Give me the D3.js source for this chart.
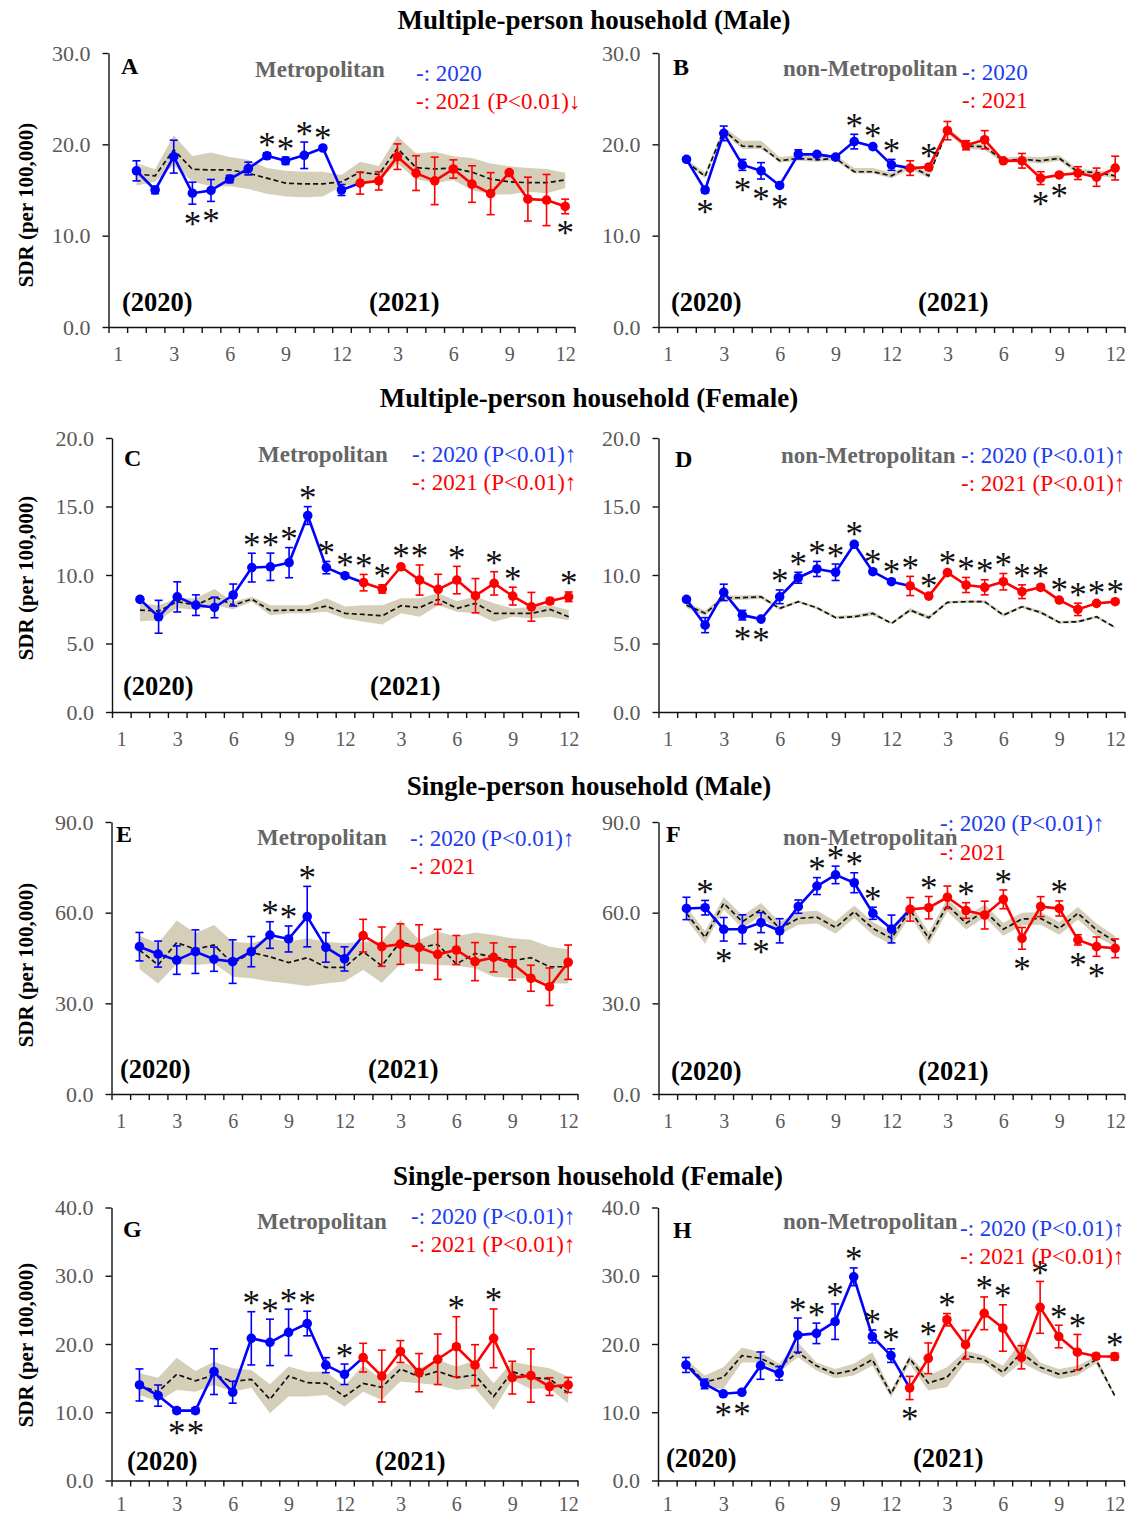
<!DOCTYPE html>
<html>
<head>
<meta charset="utf-8">
<script src="https://cdn.jsdelivr.net/npm/d3@7"></script>
<style>
  body { margin: 0; background: #fff; }
  text { font-family: "Liberation Serif", "Times New Roman", serif; }
</style>
</head>
<body>
<div id="graph"></div>
<script>
// month tick labels on the x axis (slot 0..24)
const xLabelSlots = [0, 3, 6, 9, 12, 15, 18, 21, 24];
const xLabels = ["1", "3", "6", "9", "12", "3", "6", "9", "12"];

// ---- A: multiple-person, male, metropolitan
const A_2020 = [17.1, 15.0, 18.65, 14.65, 14.95, 16.2, 17.35, 18.75, 18.2, 18.8, 19.6, 15.0];
const A_2020_err = [1.1, 0.4, 1.8, 1.2, 1.2, 0.4, 0.7, 0.3, 0.4, 1.45, 0.2, 0.6];
const A_2021 = [15.75, 16.0, 18.65, 16.85, 16.0, 17.3, 15.65, 14.6, 16.9, 14.0, 13.9, 13.2];
const A_2021_err = [1.2, 1.0, 1.4, 1.9, 2.6, 1.0, 2.0, 2.3, 0.2, 2.4, 2.8, 0.8];
const A_base = [16.76, 16.55, 19.4, 17.27, 17.2, 17.2, 16.84, 16.3, 15.75, 15.67, 15.67, 15.9, 16.95, 16.7, 19.56, 17.45, 17.3, 17.4, 16.95, 16.2, 15.9, 15.8, 15.8, 16.1];
const A_hi = [17.93, 17.27, 21.0, 18.73, 19.1, 18.6, 18.3, 17.4, 17.1, 17.0, 17.0, 16.65, 18.1, 17.64, 20.9, 19.0, 19.2, 18.7, 18.5, 17.9, 17.6, 17.4, 17.3, 16.9];
const A_lo = [15.5, 15.9, 17.75, 15.9, 15.4, 15.4, 15.1, 14.6, 14.3, 14.2, 14.3, 15.4, 15.7, 16.1, 17.9, 16.2, 15.75, 16.1, 15.0, 14.5, 14.5, 14.8, 14.65, 15.2];
const A_up = [8, 9, 10, 11];
const A_down = [4, 5, 24];

// ---- B: multiple-person, male, non-metropolitan
const B_2020 = [18.36, 15.0, 21.2, 17.75, 17.1, 15.5, 18.9, 18.9, 18.6, 20.3, 19.75, 17.75];
const B_2020_err = [0.2, 0.3, 0.8, 0.6, 0.9, 0.2, 0.5, 0.2, 0.2, 0.8, 0.2, 0.6];
const B_2021 = [17.4, 17.5, 21.5, 19.9, 20.5, 18.2, 18.2, 16.3, 16.65, 16.85, 16.4, 17.4];
const B_2021_err = [0.8, 0.3, 1.0, 0.5, 1.0, 0.2, 0.8, 0.7, 0.2, 0.7, 1.0, 1.3];
const B_base = [18.1, 16.5, 21.56, 19.8, 19.75, 18.2, 18.47, 18.3, 18.47, 17.0, 17.0, 16.55, 17.64, 16.55, 21.56, 19.8, 19.75, 18.2, 18.36, 18.2, 18.47, 17.0, 16.9, 16.55];
const B_hi = [18.4, 16.9, 21.9, 20.4, 20.4, 18.6, 18.8, 18.7, 18.8, 17.4, 17.4, 16.9, 17.9, 16.9, 21.9, 20.1, 20.0, 18.5, 18.7, 18.6, 18.8, 17.3, 17.2, 16.8];
const B_lo = [17.9, 16.3, 21.2, 19.5, 19.5, 18.0, 18.2, 18.1, 18.2, 16.8, 16.8, 16.3, 17.3, 16.3, 21.2, 19.5, 19.4, 17.9, 18.1, 17.9, 18.2, 16.7, 16.6, 16.3];
const B_up = [10, 11, 12, 14];
const B_down = [2, 4, 5, 6, 20, 21];

// ---- C: multiple-person, female, metropolitan
const C_2020 = [8.22, 6.95, 8.4, 7.8, 7.63, 8.54, 10.54, 10.6, 10.9, 14.34, 10.54, 9.95];
const C_2020_err = [0.15, 1.2, 1.1, 0.75, 0.75, 0.8, 1.05, 1.0, 1.1, 0.65, 0.45, 0.15];
const C_2021 = [9.44, 8.98, 10.6, 9.63, 8.95, 9.63, 8.49, 9.39, 8.46, 7.68, 8.1, 8.41];
const C_2021_err = [0.6, 0.3, 0.15, 1.1, 1.1, 1.0, 1.25, 0.85, 0.65, 1.05, 0.2, 0.35];
const C_base = [7.44, 7.37, 8.05, 7.8, 8.41, 7.8, 8.24, 7.39, 7.44, 7.44, 7.73, 7.2, 7.12, 7.02, 7.76, 7.61, 8.24, 7.56, 7.93, 7.2, 7.2, 7.2, 7.49, 6.95];
const C_hi = [7.93, 7.8, 8.3, 8.3, 8.98, 8.05, 8.41, 7.8, 7.8, 7.8, 8.3, 7.7, 7.8, 7.8, 8.3, 8.3, 8.66, 8.1, 8.41, 7.93, 7.56, 7.68, 7.8, 7.44];
const C_lo = [6.63, 6.7, 7.6, 7.44, 7.8, 7.5, 8.05, 7.07, 7.2, 7.2, 7.32, 6.83, 6.59, 6.39, 7.2, 6.95, 7.8, 7.32, 7.2, 6.59, 6.95, 6.83, 6.95, 6.7];
const C_up = [7, 8, 9, 10, 11, 12, 13, 14, 15, 16, 18, 20, 21, 24];
const C_down = [];

// ---- D: multiple-person, female, non-metropolitan
const D_2020 = [8.22, 6.34, 8.73, 7.07, 6.78, 8.41, 9.8, 10.44, 10.2, 12.24, 10.24, 9.51];
const D_2020_err = [0.1, 0.55, 0.6, 0.35, 0.1, 0.5, 0.4, 0.55, 0.6, 0.15, 0.1, 0.1];
const D_2021 = [9.2, 8.46, 10.17, 9.27, 9.1, 9.51, 8.78, 9.1, 8.17, 7.49, 7.93, 8.05];
const D_2021_err = [0.7, 0.1, 0.1, 0.55, 0.55, 0.6, 0.5, 0.2, 0.1, 0.45, 0.1, 0.1];
const D_base = [7.8, 7.2, 8.34, 8.34, 8.41, 7.56, 8.05, 7.61, 6.88, 6.95, 7.2, 6.46, 7.44, 6.88, 8.0, 8.05, 8.05, 7.07, 7.68, 7.27, 6.54, 6.59, 6.95, 6.17];
const D_hi = [8.0, 7.4, 8.5, 8.5, 8.55, 7.7, 8.15, 7.7, 7.0, 7.1, 7.35, 6.55, 7.6, 7.05, 8.1, 8.15, 8.15, 7.2, 7.8, 7.4, 6.65, 6.7, 7.05, 6.25];
const D_lo = [7.6, 7.0, 8.15, 8.2, 8.25, 7.45, 7.95, 7.5, 6.8, 6.85, 7.05, 6.4, 7.3, 6.75, 7.9, 7.95, 7.95, 6.95, 7.6, 7.15, 6.45, 6.5, 6.85, 6.1];
const D_up = [6, 7, 8, 9, 10, 11, 12, 13, 14, 15, 16, 17, 18, 19, 20, 21, 22, 23, 24];
const D_down = [4, 5];

// ---- E: single-person, male, metropolitan
const E_2020 = [48.75, 46.3, 44.3, 47.1, 44.6, 43.8, 47.1, 52.6, 51.3, 58.7, 48.5, 44.7];
const E_2020_err = [4.7, 4.3, 4.7, 7.2, 4.0, 7.2, 5.0, 4.4, 4.3, 10.0, 4.9, 4.0];
const E_2021 = [52.4, 48.75, 49.6, 48.5, 46.2, 47.65, 43.8, 45.2, 43.2, 38.3, 35.5, 43.6];
const E_2021_err = [5.4, 6.5, 6.7, 7.5, 8.3, 4.8, 6.3, 4.8, 5.5, 4.3, 6.2, 5.7];
const E_base = [47.65, 42.7, 50.1, 47.9, 49.3, 43.2, 46.8, 45.4, 43.5, 45.1, 41.9, 41.9, 47.1, 42.4, 50.4, 48.5, 49.5, 43.0, 46.5, 45.4, 44.1, 45.1, 42.1, 42.1];
const E_hi = [52.3, 49.9, 57.4, 53.2, 55.9, 50.4, 49.9, 51.5, 50.4, 51.5, 50.4, 49.9, 50.4, 50.4, 57.6, 51.0, 53.7, 52.1, 53.4, 52.6, 51.5, 51.0, 48.75, 47.9];
const E_lo = [41.3, 36.6, 43.0, 42.7, 43.2, 38.8, 38.3, 37.2, 36.6, 35.7, 36.6, 37.2, 41.0, 36.8, 43.0, 43.2, 42.7, 42.4, 41.6, 38.8, 38.3, 38.3, 36.6, 36.6];
const E_up = [8, 9, 10];
const E_down = [];

// ---- F: single-person, male, non-metropolitan
const F_2020 = [61.4, 61.65, 54.5, 54.5, 56.7, 54.0, 62.0, 68.8, 72.5, 69.9, 59.8, 54.6];
const F_2020_err = [3.7, 2.4, 3.9, 4.8, 3.3, 4.0, 2.2, 2.8, 2.9, 3.3, 2.0, 4.6];
const F_2021 = [61.1, 61.65, 65.1, 60.7, 59.2, 64.4, 51.5, 62.0, 61.4, 51.0, 48.75, 48.2];
const F_2021_err = [3.9, 3.7, 3.7, 2.6, 4.6, 3.1, 3.6, 3.3, 2.5, 1.7, 3.2, 3.1];
const F_base = [59.8, 51.8, 63.1, 57.0, 61.1, 54.8, 58.1, 58.5, 55.1, 60.3, 54.8, 51.5, 60.9, 51.5, 62.5, 56.5, 60.6, 54.5, 57.9, 58.1, 54.8, 59.8, 54.3, 50.4];
const F_hi = [61.9, 53.9, 65.2, 59.1, 63.2, 56.9, 60.2, 60.6, 57.2, 62.4, 56.9, 53.6, 63.0, 53.6, 64.6, 58.6, 62.7, 56.6, 60.0, 60.2, 56.9, 61.9, 56.4, 52.3];
const F_lo = [57.7, 49.7, 61.0, 54.9, 59.0, 52.7, 56.0, 56.4, 53.0, 58.2, 52.7, 49.4, 58.8, 49.4, 60.4, 54.4, 58.5, 52.4, 55.8, 56.0, 52.7, 57.7, 52.2, 48.6];
const F_up = [2, 8, 9, 10, 11, 14, 16, 18, 21];
const F_down = [3, 5, 19, 22, 23];

// ---- G: single-person, female, metropolitan
const G_2020 = [14.0, 12.44, 10.24, 10.24, 15.95, 12.93, 20.83, 20.24, 21.7, 23.0, 16.9, 15.56];
const G_2020_err = [2.35, 1.55, 0.4, 0.4, 3.35, 1.6, 3.9, 3.4, 3.4, 1.8, 1.1, 1.5];
const G_2021 = [18.0, 15.3, 18.9, 15.8, 17.76, 19.6, 16.9, 20.83, 15.07, 15.37, 13.76, 14.0];
const G_2021_err = [2.1, 3.8, 1.6, 2.8, 3.7, 4.4, 3.0, 4.3, 2.4, 3.9, 1.3, 1.1];
const G_base = [13.9, 13.0, 15.56, 14.6, 15.46, 14.5, 14.83, 11.9, 15.3, 14.34, 14.24, 12.3, 14.24, 13.66, 16.34, 15.2, 16.0, 15.07, 15.46, 12.3, 15.95, 15.07, 14.9, 12.8];
const G_hi = [15.7, 15.07, 18.0, 16.05, 17.4, 16.44, 16.2, 14.1, 16.7, 15.95, 15.95, 13.9, 16.9, 14.73, 17.4, 16.44, 17.66, 16.7, 17.56, 14.24, 17.4, 16.9, 16.44, 15.2];
const G_lo = [12.54, 11.56, 13.27, 13.0, 14.0, 13.0, 13.6, 9.85, 12.3, 12.3, 12.54, 10.83, 13.0, 11.8, 14.5, 14.24, 14.0, 13.27, 13.5, 10.34, 14.73, 13.4, 13.5, 11.3];
const G_up = [7, 8, 9, 10, 12, 18, 20];
const G_down = [3, 4];

// ---- H: single-person, female, non-metropolitan
const H_2020 = [16.93, 14.15, 12.7, 12.93, 16.83, 15.7, 21.3, 21.56, 23.27, 29.85, 21.1, 18.3];
const H_2020_err = [1.1, 0.7, 0.3, 0.3, 2.0, 1.0, 2.5, 1.5, 2.6, 1.3, 0.95, 1.0];
const H_2021 = [13.56, 17.9, 23.56, 19.9, 24.5, 22.34, 18.05, 25.37, 21.1, 18.8, 18.2, 18.15];
const H_2021_err = [1.7, 2.25, 0.9, 2.1, 2.4, 3.4, 1.7, 3.8, 1.65, 2.6, 0.4, 0.5];
const H_base = [17.3, 14.4, 15.1, 18.3, 17.9, 16.6, 18.8, 16.8, 15.6, 16.2, 17.7, 12.7, 17.9, 14.3, 15.1, 18.3, 17.7, 15.85, 18.7, 16.6, 15.6, 16.1, 17.7, 12.44];
const H_hi = [17.8, 15.37, 16.6, 19.5, 18.8, 17.1, 20.24, 17.3, 16.34, 17.1, 18.8, 13.17, 18.3, 15.37, 16.6, 19.02, 18.3, 16.83, 20.5, 17.3, 16.34, 16.83, 18.2, 12.7];
const H_lo = [16.8, 13.66, 13.4, 17.3, 17.3, 15.85, 18.05, 16.1, 14.98, 15.37, 16.83, 12.2, 17.1, 13.17, 13.66, 17.3, 17.1, 15.1, 17.3, 15.85, 14.88, 15.37, 17.1, 12.2];
const H_up = [7, 8, 9, 10, 11, 12, 14, 15, 17, 18, 20, 21, 22, 24];
const H_down = [3, 4, 13];

const rowTitles = [
  { text: "Multiple-person household (Male)", x: 594, y: 29 },
  { text: "Multiple-person household (Female)", x: 589, y: 407 },
  { text: "Single-person household (Male)", x: 589, y: 795 },
  { text: "Single-person household (Female)", x: 588, y: 1185 }
];

const BLUE = "#0000ff", RED = "#ff0000", BAND = "#d5cfb9";
const BLUE_TXT = "#1c3cf0", GRAY_TXT = "#666666", TICK_TXT = "#595959";
const PW = 466;

const panels = [
  { id: "A", o20: A_2020, e20: A_2020_err, o21: A_2021, e21: A_2021_err, base: A_base, hi: A_hi, lo: A_lo, up: A_up, down: A_down,
    yMax: 30, yStep: 10, x0: 108.5, top: 53, bottom: 327, labPad: 20, letter: [121, 74], area: "Metropolitan", areaPos: [255, 77],
    leg20: "-: 2020", leg21: "-: 2021 (P<0.01)\u2193", legX: 416, legY: [81, 109], years: [[122, 311], [369, 311]], ylab: 205 },
  { id: "B", o20: B_2020, e20: B_2020_err, o21: B_2021, e21: B_2021_err, base: B_base, hi: B_hi, lo: B_lo, up: B_up, down: B_down,
    yMax: 30, yStep: 10, x0: 658.5, top: 53, bottom: 327, labPad: 20, letter: [673, 75], area: "non-Metropolitan", areaPos: [783, 76],
    leg20: "-: 2020", leg21: "-: 2021", legX: 962, legY: [80, 108], years: [[671, 311], [918, 311]] },
  { id: "C", o20: C_2020, e20: C_2020_err, o21: C_2021, e21: C_2021_err, base: C_base, hi: C_hi, lo: C_lo, up: C_up, down: C_down,
    yMax: 20, yStep: 5, x0: 112, top: 438, bottom: 712, labPad: 20, letter: [124, 466], area: "Metropolitan", areaPos: [258, 462],
    leg20: "-: 2020 (P<0.01)\u2191", leg21: "-: 2021 (P<0.01)\u2191", legX: 412, legY: [462, 490], years: [[123, 695], [370, 695]], ylab: 578 },
  { id: "D", o20: D_2020, e20: D_2020_err, o21: D_2021, e21: D_2021_err, base: D_base, hi: D_hi, lo: D_lo, up: D_up, down: D_down,
    yMax: 20, yStep: 5, x0: 658.5, top: 438, bottom: 712, labPad: 20, letter: [675, 467], area: "non-Metropolitan", areaPos: [781, 463],
    leg20: "-: 2020 (P<0.01)\u2191", leg21: "-: 2021 (P<0.01)\u2191", legX: 961, legY: [463, 491], years: [] },
  { id: "E", o20: E_2020, e20: E_2020_err, o21: E_2021, e21: E_2021_err, base: E_base, hi: E_hi, lo: E_lo, up: E_up, down: E_down,
    yMax: 90, yStep: 30, x0: 111.5, top: 822, bottom: 1094, labPad: 20, letter: [116, 842], area: "Metropolitan", areaPos: [257, 845],
    leg20: "-: 2020 (P<0.01)\u2191", leg21: "-: 2021", legX: 410, legY: [846, 874], years: [[120, 1078], [368, 1078]], ylab: 965 },
  { id: "F", o20: F_2020, e20: F_2020_err, o21: F_2021, e21: F_2021_err, base: F_base, hi: F_hi, lo: F_lo, up: F_up, down: F_down,
    yMax: 90, yStep: 30, x0: 658.5, top: 822, bottom: 1094, labPad: 20, letter: [666, 842], area: "non-Metropolitan", areaPos: [783, 845],
    leg20: "-: 2020 (P<0.01)\u2191", leg21: "-: 2021", legX: 940, legY: [831, 860], years: [[671, 1080], [918, 1080]] },
  { id: "G", o20: G_2020, e20: G_2020_err, o21: G_2021, e21: G_2021_err, base: G_base, hi: G_hi, lo: G_lo, up: G_up, down: G_down,
    yMax: 40, yStep: 10, x0: 111.5, top: 1207.5, bottom: 1480.5, labPad: 16, letter: [123, 1237], area: "Metropolitan", areaPos: [257, 1229],
    leg20: "-: 2020 (P<0.01)\u2191", leg21: "-: 2021 (P<0.01)\u2191", legX: 411, legY: [1224, 1252], years: [[127, 1470], [375, 1470]], ylab: 1345 },
  { id: "H", o20: H_2020, e20: H_2020_err, o21: H_2021, e21: H_2021_err, base: H_base, hi: H_hi, lo: H_lo, up: H_up, down: H_down,
    yMax: 40, yStep: 10, x0: 658, top: 1207.5, bottom: 1480.5, labPad: 16, letter: [673, 1238], area: "non-Metropolitan", areaPos: [783, 1229],
    leg20: "-: 2020 (P<0.01)\u2191", leg21: "-: 2021 (P<0.01)\u2191", legX: 960, legY: [1236, 1264], years: [[666, 1467], [913, 1467]] }
];

const svg = d3.select("#graph").append("svg")
  .attr("width", 1129)
  .attr("height", 1517);

svg.selectAll(".row-title")
  .data(rowTitles)
  .enter().append("text")
  .attr("class", "row-title")
  .attr("x", d => d.x)
  .attr("y", d => d.y)
  .attr("text-anchor", "middle")
  .attr("font-weight", "bold")
  .attr("font-size", "27px")
  .attr("fill", "#000")
  .text(d => d.text);

function drawSeries(g, x, y, lineData, pts, color) {
  g.append("path")
    .datum(lineData)
    .attr("fill", "none")
    .attr("stroke", color)
    .attr("stroke-width", 2.6)
    .attr("stroke-linejoin", "round")
    .attr("d", d3.line().x(d => x(d.s)).y(d => y(d.v)));

  const eb = g.append("g").attr("stroke", color).attr("stroke-width", 1.6);
  pts.forEach(d => {
    eb.append("line").attr("x1", x(d.s)).attr("x2", x(d.s)).attr("y1", y(d.v - d.e)).attr("y2", y(d.v + d.e));
    eb.append("line").attr("x1", x(d.s) - 4).attr("x2", x(d.s) + 4).attr("y1", y(d.v - d.e)).attr("y2", y(d.v - d.e));
    eb.append("line").attr("x1", x(d.s) - 4).attr("x2", x(d.s) + 4).attr("y1", y(d.v + d.e)).attr("y2", y(d.v + d.e));
  });

  g.selectAll(null)
    .data(pts)
    .enter().append("circle")
    .attr("cx", d => x(d.s))
    .attr("cy", d => y(d.v))
    .attr("r", 4.8)
    .attr("fill", color);
}

function drawPanel(p) {
  const g = svg.append("g").attr("class", "panel-" + p.id);
  const x = d3.scaleLinear().domain([-0.5, 24.5]).range([p.x0, p.x0 + PW]);
  const y = d3.scaleLinear().domain([0, p.yMax]).range([p.bottom, p.top]);

  const baseData = p.base.map((v, i) => ({ s: i + 1, v, lo: p.lo[i], hi: p.hi[i] }));

  g.append("path")
    .datum(baseData)
    .attr("fill", BAND)
    .attr("d", d3.area().x(d => x(d.s)).y0(d => y(d.lo)).y1(d => y(d.hi)));

  g.append("path")
    .datum(baseData)
    .attr("fill", "none")
    .attr("stroke", "#111")
    .attr("stroke-width", 1.7)
    .attr("stroke-dasharray", "5,3")
    .attr("d", d3.line().x(d => x(d.s)).y(d => y(d.v)));

  const s20 = p.o20.map((v, i) => ({ s: i + 1, v, e: p.e20[i] }));
  const s21 = p.o21.map((v, i) => ({ s: i + 13, v, e: p.e21[i] }));
  // the 2020 line runs on into January 2021
  drawSeries(g, x, y, s20.concat([s21[0]]), s20, BLUE);
  drawSeries(g, x, y, s21, s21, RED);

  const all = s20.concat(s21);
  const stars = p.up.map(s => ({ s, dir: -1 })).concat(p.down.map(s => ({ s, dir: 1 })));
  g.selectAll(".star")
    .data(stars)
    .enter().append("text")
    .attr("class", "star")
    .attr("x", d => x(d.s))
    .attr("y", d => {
      const pt = all[d.s - 1];
      return d.dir < 0 ? y(pt.v + pt.e) - 14 : y(pt.v - pt.e) + 14;
    })
    .attr("dy", "0.5em")
    .attr("text-anchor", "middle")
    .attr("font-size", "35px")
    .attr("fill", "#111")
    .text("*");

  // axes
  const yAxis = g.append("g")
    .attr("transform", "translate(" + p.x0 + ",0)")
    .call(d3.axisLeft(y).tickValues(d3.range(0, p.yMax + 0.01, p.yStep)).tickFormat(d3.format(".1f")).tickSizeInner(6).tickSizeOuter(0).tickPadding(12));
  yAxis.selectAll("text").attr("font-size", "22px").attr("fill", TICK_TXT).style("font-family", "Liberation Serif");

  g.append("g")
    .attr("transform", "translate(0," + p.bottom + ")")
    .call(d3.axisBottom(x).tickValues(d3.range(-0.5, 24.6, 1)).tickFormat("").tickSizeInner(6).tickSizeOuter(0));

  const xLab = g.append("g")
    .attr("transform", "translate(0," + p.bottom + ")")
    .call(d3.axisBottom(x).tickValues(xLabelSlots).tickFormat((d, i) => xLabels[i]).tickSize(0).tickPadding(p.labPad));
  xLab.select(".domain").remove();
  xLab.selectAll("text").attr("font-size", "20px").attr("fill", TICK_TXT).style("font-family", "Liberation Serif");

  g.selectAll(".domain, .tick line").attr("stroke", "#111").attr("stroke-width", 1.4);

  // panel texts
  g.append("text")
    .attr("x", p.letter[0]).attr("y", p.letter[1])
    .attr("font-weight", "bold").attr("font-size", "24px").attr("fill", "#000")
    .text(p.id);

  g.append("text")
    .attr("x", p.areaPos[0]).attr("y", p.areaPos[1])
    .attr("font-weight", "bold").attr("font-size", "23px").attr("fill", GRAY_TXT)
    .text(p.area);

  g.append("text")
    .attr("x", p.legX).attr("y", p.legY[0])
    .attr("font-size", "23px").attr("fill", BLUE_TXT)
    .text(p.leg20);

  g.append("text")
    .attr("x", p.legX).attr("y", p.legY[1])
    .attr("font-size", "23px").attr("fill", RED)
    .text(p.leg21);

  p.years.forEach((pos, i) => {
    g.append("text")
      .attr("x", pos[0]).attr("y", pos[1])
      .attr("font-weight", "bold").attr("font-size", "26.5px").attr("fill", "#000")
      .text(i === 0 ? "(2020)" : "(2021)");
  });

  if (p.ylab) {
    g.append("text")
      .attr("transform", "translate(33," + p.ylab + ") rotate(-90)")
      .attr("text-anchor", "middle")
      .attr("font-weight", "bold")
      .attr("font-size", "21px")
      .attr("fill", "#000")
      .text("SDR (per 100,000)");
  }
}

panels.forEach(drawPanel);
</script>
</body>
</html>
